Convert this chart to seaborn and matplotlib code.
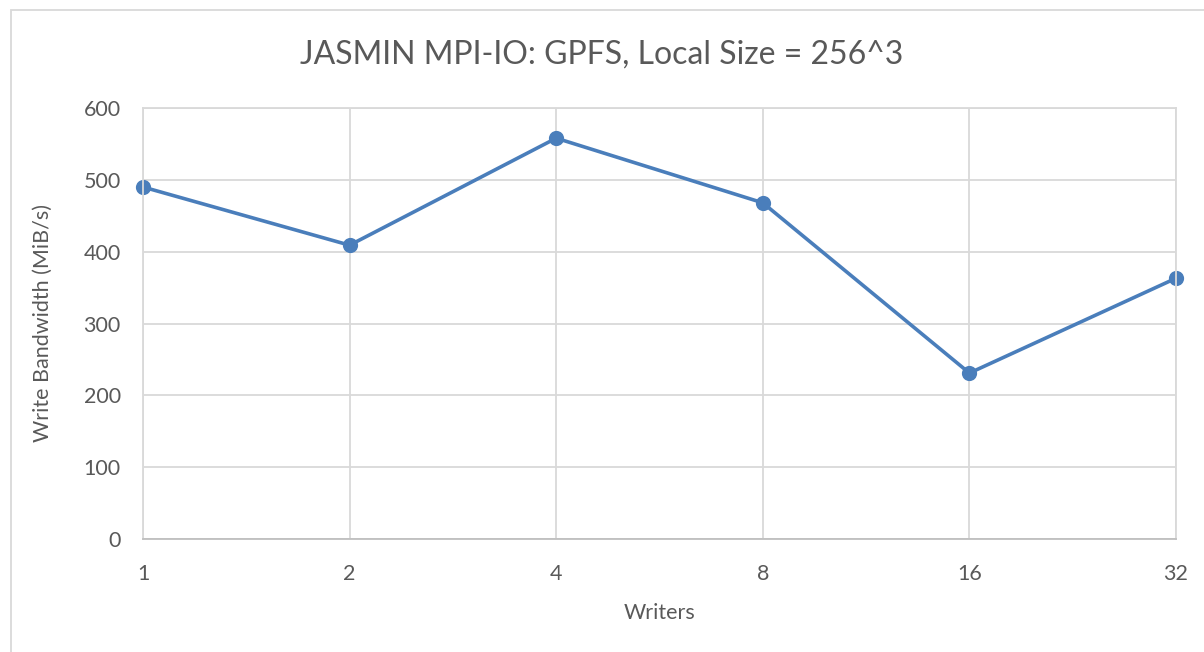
import matplotlib
matplotlib.use("Agg")
import matplotlib.pyplot as plt
import seaborn as sns
import pandas as pd
from matplotlib.patches import Rectangle

writers = ["1", "2", "4", "8", "16", "32"]
bandwidth = [490, 409, 558, 468, 231, 363]
yticks = [0, 100, 200, 300, 400, 500, 600]

sns.set_theme(style="white")
plt.rcParams['font.family'] = ['Lato', 'DejaVu Sans']

text_color = "#595959"
grid_color = "#d9d9d9"
line_color = "#4a7ebb"

fig = plt.figure(figsize=(12.04, 6.52), dpi=100)
ax = fig.add_axes([143/1204, 1 - 539/652, (1176-143)/1204, (539-108)/652])

df = pd.DataFrame({"Writers": writers, "bw": bandwidth})
sns.pointplot(data=df, x="Writers", y="bw", ax=ax, color=line_color,
              markers="o", markersize=9, linewidth=2.6, errorbar=None)
for art in ax.lines + ax.collections:
    art.set_clip_on(False)

ax.set_xlim(0, len(writers) - 1)
ax.set_ylim(0, 600)
ax.set_yticks(yticks)
ax.set_yticklabels([str(v) for v in yticks])
ax.grid(True, color=grid_color, linewidth=1.3)
ax.set_axisbelow(True)
for s in ax.spines.values():
    s.set_color(grid_color)
    s.set_linewidth(1.3)
ax.spines['bottom'].set_color("#bfbfbf")
ax.tick_params(axis='both', length=0, labelsize=15.5, colors=text_color, pad=16)
ax.tick_params(axis='x', pad=18)
ax.set_xlabel("Writers", fontsize=15.5, color=text_color, labelpad=14)
ax.set_ylabel("Write Bandwidth (MiB/s)", fontsize=15.5, color=text_color, labelpad=22)
fig.text(0.5, 1 - 55/652, "JASMIN MPI-IO: GPFS, Local Size = 256^3", ha="center", va="center",
         fontsize=23, color=text_color)

fig.patches.append(Rectangle((11/1204, -0.1), 1.2, 1 - 10/652 + 0.1, transform=fig.transFigure,
                             fill=False, edgecolor=grid_color, linewidth=1.3))

fig.savefig("out.png", dpi=100)
